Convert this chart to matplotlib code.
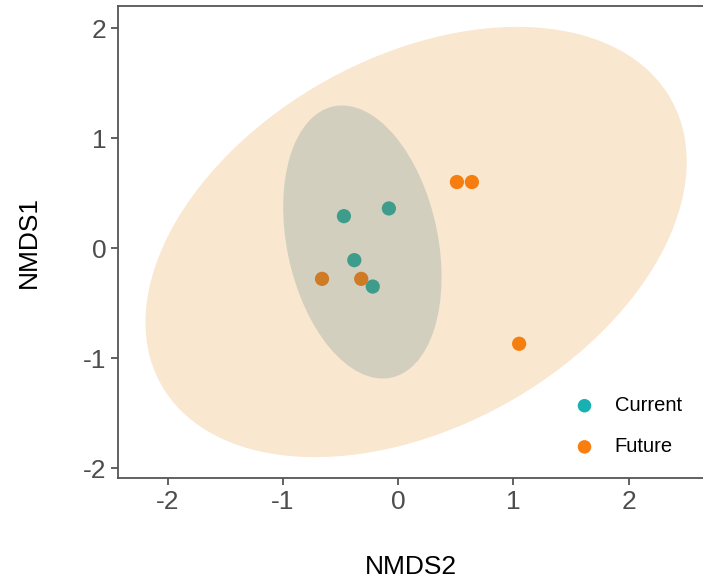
import matplotlib
matplotlib.use("Agg")
import matplotlib.pyplot as plt
from matplotlib.patches import Ellipse

plt.rcParams['font.family'] = ['Liberation Sans', 'DejaVu Sans']
plt.rcParams['axes.unicode_minus'] = False

# Scores NMDS par groupe
current_x = [-0.47, -0.08, -0.38, -0.22]
current_y = [0.29, 0.36, -0.11, -0.35]
future_x = [-0.66, -0.32, 0.51, 0.64, 1.05]
future_y = [-0.28, -0.28, 0.60, 0.60, -0.87]

groups = ["Current", "Future"]
colors = ["#17b1b1", "#fa7d0f"]

# Ellipses (centre, largeur, hauteur, angle)
future_ell = ((0.156, 0.055), 5.13, 3.32, 31.9)
current_ell = ((-0.31, 0.055), 2.516, 1.31, -78.9)

ticks = [-2, -1, 0, 1, 2]


def main():
    fig = plt.figure(figsize=(7.03, 5.81), dpi=100)
    ax = fig.add_axes([118 / 703, 103 / 581, 585 / 703, 472 / 581])

    ax.scatter(current_x, current_y, s=105, color=colors[0], zorder=1,
               label=groups[0], edgecolors='none')
    ax.scatter(future_x, future_y, s=105, color=colors[1], zorder=1,
               label=groups[1], edgecolors='none')

    (cx, cy), w, h, a = future_ell
    ax.add_patch(Ellipse((cx, cy), w, h, angle=a, facecolor="#e1870f",
                         alpha=0.2, edgecolor='none', zorder=2))
    (cx, cy), w, h, a = current_ell
    ax.add_patch(Ellipse((cx, cy), w, h, angle=a, facecolor="#3b6f7f",
                         alpha=0.2, edgecolor='none', zorder=3))

    ax.set_xlim(-2.43, 2.645)
    ax.set_ylim(-2.09, 2.2)
    ax.set_xticks(ticks)
    ax.set_yticks(ticks)

    for side in ['left', 'bottom', 'top']:
        ax.spines[side].set_color('#555555')
        ax.spines[side].set_linewidth(1.3)
    ax.spines['right'].set_visible(False)
    ax.tick_params(colors='#555555', labelcolor='#4d4d4d', labelsize=19,
                   length=5, width=1.3)

    ax.set_xlabel("NMDS2", fontsize=19, labelpad=30)
    ax.set_ylabel("NMDS1", fontsize=19, labelpad=30)

    ax.legend(loc='center left', bbox_to_anchor=(0.763, 0.11), frameon=False,
              fontsize=14.5, handlelength=1.0, handletextpad=1.0,
              labelspacing=1.1, borderpad=0, markerscale=0.95)

    fig.savefig("out.png", dpi=100)


if __name__ == "__main__":
    main()
